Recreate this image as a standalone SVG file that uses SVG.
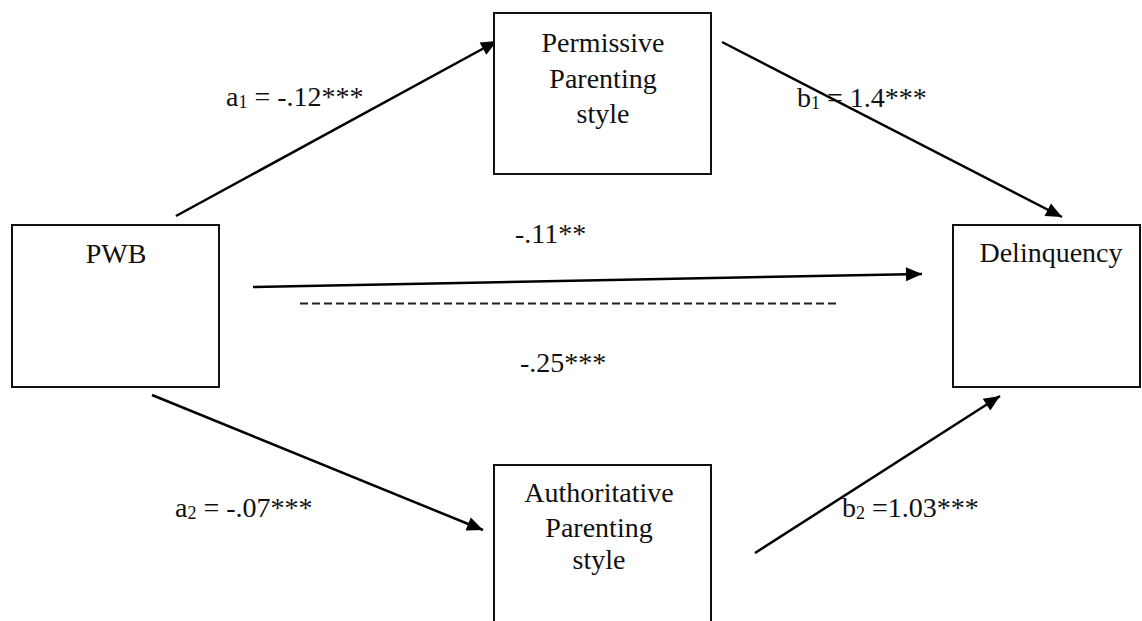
<svg xmlns="http://www.w3.org/2000/svg" width="1142" height="621" viewBox="0 0 1142 621">
  <style>
    .box { fill: #fff; stroke: #111; stroke-width: 2; }
    .t { font-family: "Liberation Serif", "Times New Roman", serif; font-size: 28px; fill: #111; }
    .c { text-anchor: middle; }
    .sub { font-size: 18px; }
    .edge { stroke: #000; stroke-width: 2.5; fill: none; marker-end: url(#arr); }
    .dash { stroke: #222; stroke-width: 2; stroke-dasharray: 8 4; fill: none; }
  </style>
  <defs>
    <marker id="arr" markerUnits="userSpaceOnUse" markerWidth="20" markerHeight="20" viewBox="0 0 20 20" refX="18" refY="10" orient="auto">
      <path d="M2,3 L18,10 L2,17 Z" fill="#000"/>
    </marker>
  </defs>
  <rect width="1142" height="621" fill="#fff"/>

  <g id="connectors">
    <line class="edge" x1="176" y1="216" x2="497" y2="41"/>
    <line class="edge" x1="722" y1="42" x2="1062" y2="217"/>
    <line class="edge" x1="253" y1="287" x2="922" y2="274"/>
    <line class="edge" x1="152" y1="395" x2="483" y2="530"/>
    <line class="edge" x1="755" y1="553" x2="1000" y2="396"/>
    <line class="dash" x1="300" y1="303.5" x2="836" y2="303.5"/>
  </g>

  <g id="node-permissive">
    <rect class="box" x="494" y="13" width="217" height="161"/>
    <text class="t c" x="603" y="52">Permissive</text>
    <text class="t c" x="603" y="88">Parenting</text>
    <text class="t c" x="603" y="123">style</text>
  </g>

  <g id="node-pwb">
    <rect class="box" x="12" y="225" width="207" height="162"/>
    <text class="t c" x="116" y="263">PWB</text>
  </g>

  <g id="node-delinquency">
    <rect class="box" x="953" y="225" width="187" height="162"/>
    <text class="t c" x="1051" y="262">Delinquency</text>
  </g>

  <g id="node-authoritative">
    <rect class="box" x="494" y="465" width="217" height="170"/>
    <text class="t c" x="599" y="502">Authoritative</text>
    <text class="t c" x="599" y="537">Parenting</text>
    <text class="t c" x="599" y="569">style</text>
  </g>

  <g id="labels">
    <text class="t" x="226" y="106">a<tspan class="sub" dy="2">1</tspan><tspan dy="-2"> = -.12***</tspan></text>
    <text class="t" x="797" y="107">b<tspan class="sub" dy="2">1</tspan><tspan dy="-2"> = 1.4***</tspan></text>
    <text class="t" x="515" y="243">-.11**</text>
    <text class="t" x="520" y="372">-.25***</text>
    <text class="t" x="175" y="517">a<tspan class="sub" dy="2">2</tspan><tspan dy="-2"> = -.07***</tspan></text>
    <text class="t" x="842" y="517">b<tspan class="sub" dy="2">2</tspan><tspan dy="-2"> =1.03***</tspan></text>
  </g>
</svg>
